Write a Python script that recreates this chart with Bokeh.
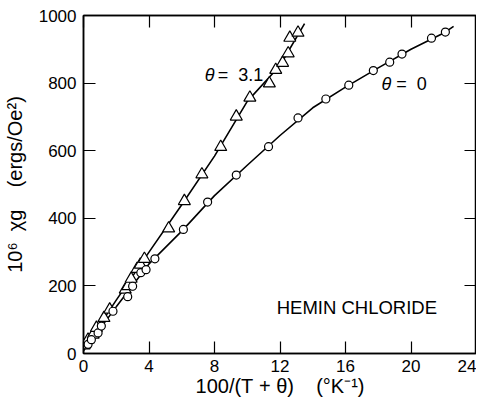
from bokeh.plotting import figure
from bokeh.models import Range1d, LinearAxis, FixedTicker, Label
from bokeh.embed import file_html
from bokeh.resources import INLINE

# theta = 3.1 (triangles)
tri_x = [0.04, 0.28, 0.59, 0.79, 1.25, 1.6, 2.55, 2.71, 2.91, 3.27, 3.47, 3.72,
         5.2, 6.16, 7.23, 8.38, 9.33, 10.16, 11.35, 11.74, 12.16, 12.5, 12.6, 13.1]
tri_y = [24, 41, 56, 76, 105, 130, 189, 199, 221, 250, 263, 280,
         370, 451, 530, 611, 701, 757, 799, 839, 860, 888, 934, 949]
tri_curve_x = [0, 2, 4, 6, 8, 10, 12, 13.5]
tri_curve_y = [12, 158, 300, 440, 584, 746, 852, 976]

# theta = 0 (circles)
cir_x = [0.28, 0.48, 0.89, 1.09, 1.8, 2.7, 3.0, 3.5, 3.82, 4.36,
         6.1, 7.58, 9.33, 11.3, 13.1, 14.8, 16.2, 17.7, 18.7, 19.45, 21.25, 22.1]
cir_y = [27, 41, 61, 81, 125, 168, 199, 239, 248, 280,
         367, 448, 528, 612, 697, 753, 794, 837, 862, 886, 933, 951]
cir_curve_x = [0, 2, 4, 6, 8, 10, 12, 14, 16, 18, 20, 22, 22.6]
cir_curve_y = [8, 138, 265, 362, 467, 557, 645, 727, 788, 845, 900, 948, 968]

x_ticks = [0, 4, 8, 12, 16, 20, 24]
y_ticks = [0, 200, 400, 600, 800, 1000]

FONT = "Liberation Sans"
NB = "\u00a0"

p = figure(width=476, height=399, output_backend="svg", toolbar_location=None,
           x_range=Range1d(0, 24), y_range=Range1d(0, 1000),
           min_border_left=72, min_border_top=15, min_border_right=0, min_border_bottom=0)
p.grid.visible = False
p.outline_line_color = "black"
p.outline_line_width = 1.5
p.background_fill_color = "white"
p.border_fill_color = "white"

for ax in (p.xaxis[0], p.yaxis[0]):
    ax.major_tick_in = 12
    ax.major_tick_out = 0
    ax.minor_tick_line_color = None
    ax.axis_line_width = 1.5
    ax.major_tick_line_width = 1.2
    ax.major_label_text_font = FONT
    ax.major_label_text_font_size = "17px"
    ax.major_label_text_color = "black"
    ax.axis_label_text_font = FONT
    ax.axis_label_text_font_size = "20px"
    ax.axis_label_text_font_style = "normal"
    ax.axis_label_text_color = "black"

p.xaxis[0].ticker = FixedTicker(ticks=x_ticks)
p.yaxis[0].ticker = FixedTicker(ticks=y_ticks)
p.xaxis[0].major_label_standoff = 6
p.yaxis[0].major_label_standoff = 7
p.xaxis[0].axis_label = "100/(T" + NB + "+" + NB + "θ)" + NB * 4 + "(°K⁻¹)"
p.yaxis[0].axis_label = "10⁶" + NB * 2 + "χg" + NB * 4 + "(ergs/Oe²)"
p.xaxis[0].axis_label_standoff = 0
p.yaxis[0].axis_label_standoff = 10

top = LinearAxis(ticker=FixedTicker(ticks=x_ticks), major_tick_in=12, major_tick_out=0,
                 minor_tick_line_color=None, major_label_overrides={t: "" for t in x_ticks},
                 major_label_standoff=0, axis_line_width=1.5, major_tick_line_width=1.2)
right = LinearAxis(ticker=FixedTicker(ticks=y_ticks), major_tick_in=12, major_tick_out=0,
                   minor_tick_line_color=None, major_label_overrides={t: "" for t in y_ticks},
                   major_label_standoff=0, axis_line_width=1.5, major_tick_line_width=1.2)
p.add_layout(top, "above")
p.add_layout(right, "right")

p.line(tri_curve_x, tri_curve_y, line_color="black", line_width=1.6)
p.line(cir_curve_x, cir_curve_y, line_color="black", line_width=1.6)
p.scatter(tri_x, tri_y, marker="triangle", size=12, fill_color="white",
          line_color="black", line_width=1.2)
p.scatter(cir_x, cir_y, marker="circle", size=8, fill_color="white",
          line_color="black", line_width=1.2)

def lab(x, y, t, style="normal", size="18px"):
    p.add_layout(Label(x=x, y=y, text=t, text_font=FONT, text_font_size=size,
                       text_font_style=style, text_baseline="middle", text_align="left",
                       text_color="black"))

lab(7.4, 825, "θ", "italic")
lab(8.2, 825, "=" + NB * 2 + "3.1")
lab(18.2, 796, "θ", "italic")
lab(19.1, 796, "=" + NB * 2 + "0")
lab(11.8, 136, "HEMIN CHLORIDE", size="18.5px")

open("out.html", "w").write(file_html(p, INLINE))
